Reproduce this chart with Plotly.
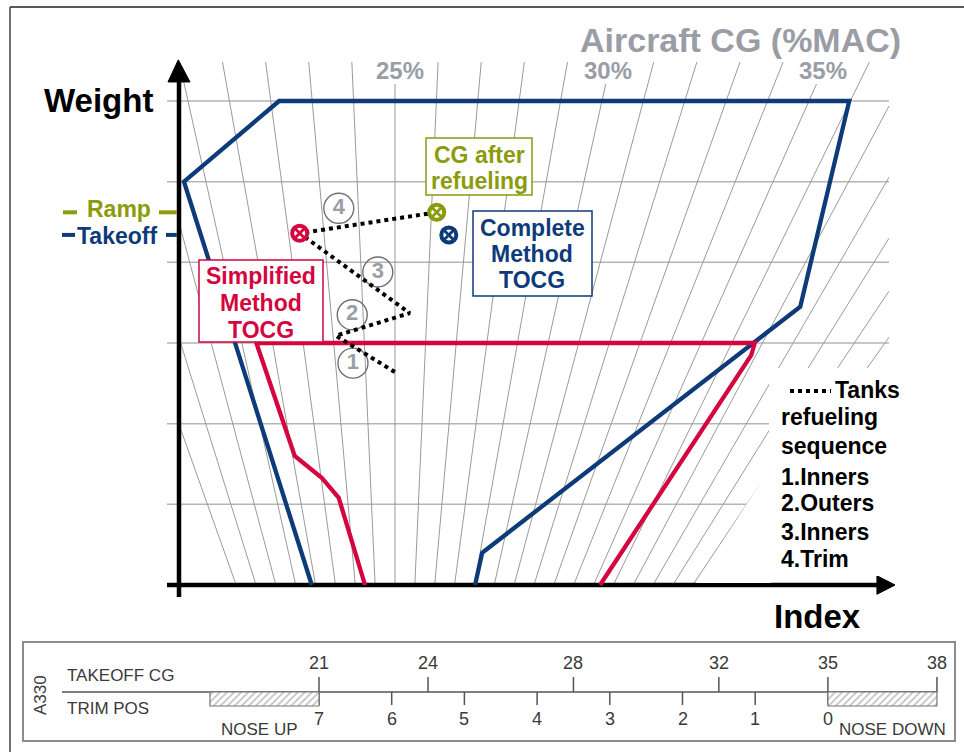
import plotly.graph_objects as go

W, H = 964, 752

# ---------------- data ----------------
weight_grid = [1, 2, 3, 4, 5, 6]
cg_lines = list(range(17, 43))          # %MAC lines of the fan
cg_labeled = [25, 30, 35]

takeoff_env_index = [18.7, 0.7, 14.1, 94.4, 87.5, 42.7, 41.7]
takeoff_env_weight = [0.0, 5.0, 6.0, 6.0, 3.45, 0.40, 0.0]

simplified_env_index = [26.2, 22.5, 20.1, 16.3, 10.9, 81.1, 80.6, 59.3]
simplified_env_weight = [0.0, 1.08, 1.33, 1.60, 3.0, 3.0, 2.85, 0.0]

refuel_index = [30.4, 22.1, 32.5, 17.0, 36.3]
refuel_weight = [2.64, 3.09, 3.37, 4.36, 4.62]

step_labels = ["1", "2", "3", "4"]
step_index = [24.5, 24.4, 28.0, 22.5]
step_weight = [2.75, 3.35, 3.88, 4.67]

point_names = ["Simplified TOCG", "CG after refueling", "Complete TOCG"]
point_index = [17.0, 36.3, 38.0]
point_weight = [4.36, 4.62, 4.34]

ramp_weight = 4.62
takeoff_weight = 4.34

sequence_lines = ["refueling", "sequence", "1.Inners", "2.Outers", "3.Inners", "4.Trim"]

takeoff_cg_ticks = [21, 24, 28, 32, 35, 38]
trim_pos_ticks = [7, 6, 5, 4, 3, 2, 1, 0]
nose_up_cg = [18, 21]
nose_down_cg = [35, 38]

# ---------------- colours / fonts ----------------
BLUE = "#0d3b7a"
RED = "#d4063f"
OLIVE = "#8b9b0b"
GRAYTXT = "#9b9da6"
SANS = "Liberation Sans, Arial, Helvetica, sans-serif"

# ---------------- scales ----------------
OX, OY = 179, 585          # pixel position of index 0 / weight 0
PXU, PXW = 7.1, 80.667     # pixels per index unit / per weight unit
xr = [-OX / PXU, (W - OX) / PXU]
yr = [(OY - H) / PXW, OY / PXW]

# fan of %MAC lines: index = U25 + (cg-25)*(A + B*weight)
U25, A, B = 30.42, 2.796, 0.5057
U_MAX = 100.0
W_TOP, W_TOP_LAB = 6.483, 6.21
GRID_U0 = -1.69

# bottom strip scale (takeoff CG -> pixel column)
S_PX21, S_PXCG = 319, 36.35
x2r = [21 - S_PX21 / S_PXCG, 21 + (W - S_PX21) / S_PXCG]


def P(px, py):
    return px / W, 1 - py / H


fig = go.Figure()

# horizontal weight grid
hx, hy = [], []
for w in weight_grid:
    hx += [GRID_U0, U_MAX, None]
    hy += [w, w, None]
fig.add_trace(go.Scatter(x=hx, y=hy, mode="lines", line=dict(color="#b5b5b5", width=1.5), hoverinfo="skip"))

# %MAC fan
gx, gy = [], []
for cg in cg_lines:
    wtop = W_TOP_LAB if cg in cg_labeled else W_TOP
    c0 = U25 + (cg - 25) * A
    c1 = (cg - 25) * B
    lo, hi = 0.0, wtop
    if c1 > 0:
        hi = min(hi, (U_MAX - c0) / c1)
    elif c1 < 0:
        hi = min(hi, -c0 / c1)
    if hi <= lo:
        continue
    gx += [c0 + c1 * lo, c0 + c1 * hi, None]
    gy += [lo, hi, None]
fig.add_trace(go.Scatter(x=gx, y=gy, mode="lines", line=dict(color="#9a9a9a", width=1), hoverinfo="skip"))

# axes with arrows
fig.add_trace(go.Scatter(x=[0, 0], y=[-0.149, 6.25], mode="lines", line=dict(color="black", width=4.5), hoverinfo="skip"))
fig.add_trace(go.Scatter(x=[-1.55, 1.55, -0.1, -1.55], y=[6.236, 6.236, 6.51, 6.236], mode="lines", fill="toself",
                         fillcolor="black", line=dict(color="black", width=1), hoverinfo="skip"))
fig.add_trace(go.Scatter(x=[GRID_U0, 98.5], y=[0, 0], mode="lines", line=dict(color="black", width=4.5), hoverinfo="skip"))
fig.add_trace(go.Scatter(x=[98.3, 98.3, 100.85, 98.3], y=[0.115, -0.115, 0, 0.115], mode="lines", fill="toself",
                         fillcolor="black", line=dict(color="black", width=1), hoverinfo="skip"))

# envelopes
fig.add_trace(go.Scatter(x=takeoff_env_index, y=takeoff_env_weight, mode="lines",
                         line=dict(color=BLUE, width=4.3), hoverinfo="skip"))
fig.add_trace(go.Scatter(x=simplified_env_index, y=simplified_env_weight, mode="lines",
                         line=dict(color=RED, width=4.3), hoverinfo="skip"))

# ramp / takeoff marks on the weight axis
fig.add_trace(go.Scatter(x=[-16.34, -14.37, None, -2.82, -0.3], y=[ramp_weight] * 2 + [None] + [ramp_weight] * 2,
                         mode="lines", line=dict(color=OLIVE, width=4), hoverinfo="skip"))
fig.add_trace(go.Scatter(x=[-16.48, -14.65, None, -1.83, -0.3], y=[takeoff_weight] * 2 + [None] + [takeoff_weight] * 2,
                         mode="lines", line=dict(color=BLUE, width=4), hoverinfo="skip"))

# circled step numbers
fig.add_trace(go.Scatter(x=step_index, y=step_weight, mode="markers+text", text=step_labels,
                         textposition="middle center",
                         textfont=dict(family=SANS, size=22, color=GRAYTXT, weight="bold"),
                         marker=dict(symbol="circle-open", size=30, color="#6f6f6f", line=dict(width=1.4)),
                         hoverinfo="skip"))

# refuelling path
fig.add_trace(go.Scatter(x=refuel_index, y=refuel_weight, mode="lines",
                         line=dict(color="black", width=4, dash="dot"), hoverinfo="skip"))

# CG points (circle with cross)
pcolors = [RED, OLIVE, BLUE]
fig.add_trace(go.Scatter(x=point_index, y=point_weight, mode="markers",
                         marker=dict(symbol="circle", size=19, color=pcolors, line=dict(width=0)), hoverinfo="skip"))
fig.add_trace(go.Scatter(x=point_index, y=point_weight, mode="markers",
                         marker=dict(symbol="circle", size=11, color="white", line=dict(width=0)), hoverinfo="skip"))
fig.add_trace(go.Scatter(x=point_index, y=point_weight, mode="markers",
                         marker=dict(symbol="x-thin", size=11, color=pcolors, line=dict(width=2.8, color=pcolors)),
                         hoverinfo="skip"))

# ---------------- bottom trim strip ----------------
STRIP_LINE, CG_TICK_TOP, TRIM_TICK_BOT, HATCH_BOT = 692, 677, 705, 706
strip_left_cg = 21 - (S_PX21 - 62) / S_PXCG
fig.add_trace(go.Scatter(x=[strip_left_cg, max(takeoff_cg_ticks)], y=[STRIP_LINE, STRIP_LINE], mode="lines",
                         line=dict(color="#555", width=1.5), xaxis="x2", yaxis="y2", hoverinfo="skip"))
tx, ty = [], []
for c in takeoff_cg_ticks:
    tx += [c, c, None]
    ty += [CG_TICK_TOP, STRIP_LINE, None]
for t in trim_pos_ticks:
    c = 35 - 2 * t
    tx += [c, c, None]
    ty += [STRIP_LINE, TRIM_TICK_BOT, None]
fig.add_trace(go.Scatter(x=tx, y=ty, mode="lines", line=dict(color="#555", width=1.5),
                         xaxis="x2", yaxis="y2", hoverinfo="skip"))
for rng in (nose_up_cg, nose_down_cg):
    fig.add_trace(go.Scatter(x=[rng[0], rng[1], rng[1], rng[0], rng[0]],
                             y=[STRIP_LINE, STRIP_LINE, HATCH_BOT, HATCH_BOT, STRIP_LINE],
                             mode="lines", fill="toself", fillcolor="white",
                             fillpattern=dict(shape="/", fgcolor="#7a7a7a", bgcolor="white", size=5, solidity=0.3),
                             line=dict(color="#777", width=1.2), xaxis="x2", yaxis="y2", hoverinfo="skip"))

shapes = []
# white masks behind the sequence legend
shapes.append(dict(type="rect", xref="paper", yref="paper", x0=769 / W, x1=1, y0=1 - 576 / H, y1=1 - 368 / H,
                   fillcolor="white", line=dict(width=0), layer="above"))
x1p, y1p = P(771, 466)
x2p, y2p = P(771, 583)
x3p, y3p = P(696, 583)
shapes.append(dict(type="path", xref="paper", yref="paper",
                   path=f"M {x1p} {y1p} L {x2p} {y2p} L {x3p} {y3p} Z",
                   fillcolor="white", line=dict(width=0), layer="above"))
# dotted legend sample
shapes.append(dict(type="line", xref="paper", yref="paper", x0=790 / W, x1=831 / W, y0=1 - 391 / H, y1=1 - 391 / H,
                   line=dict(color="black", width=4, dash="dot"), layer="above"))


def box(x0, y0, x1, y1, color):
    shapes.append(dict(type="rect", xref="paper", yref="paper", x0=x0 / W, x1=x1 / W, y0=1 - y1 / H, y1=1 - y0 / H,
                       fillcolor="white", line=dict(color=color, width=1.5), layer="above"))


box(426, 138, 532, 195, OLIVE)
box(473, 211, 592, 296, BLUE)
box(199, 260, 323, 342, RED)

# outer frame
shapes.append(dict(type="line", xref="paper", yref="paper", x0=10 / W, x1=1, y0=1 - 7 / H, y1=1 - 7 / H,
                   line=dict(color="#222", width=1.5)))
shapes.append(dict(type="line", xref="paper", yref="paper", x0=10 / W, x1=10 / W, y0=0, y1=1 - 7 / H,
                   line=dict(color="#444", width=1.5)))
# strip frame
shapes.append(dict(type="rect", xref="paper", yref="paper", x0=23 / W, x1=955 / W, y0=1 - 741 / H, y1=1 - 642 / H,
                   line=dict(color="#8c8c8c", width=2)))

ann = []


def txt(s, px, py, size, color, xanchor="center", bold=True, family=SANS, angle=0):
    ann.append(dict(text=s, x=px / W, y=1 - py / H, xref="paper", yref="paper", showarrow=False,
                    xanchor=xanchor, yanchor="middle", textangle=angle,
                    font=dict(family=family, size=size, color=color, weight="bold" if bold else "normal")))


txt("Weight", 98, 100, 33, "black")
txt("Index", 817, 616, 33, "black")
txt("Aircraft CG (%MAC)", 740, 40, 34, GRAYTXT)
for lab, px in zip(cg_labeled, [400, 608, 823]):
    txt(f"{lab}%", px, 70, 24, GRAYTXT)

txt("Ramp", 119, 209, 23, OLIVE)
txt("Takeoff", 117, 236, 23, BLUE)

for s, py in zip(["CG after", "refueling"], [155, 181]):
    txt(s, 479, py, 23, OLIVE)
for s, py in zip(["Complete", "Method", "TOCG"], [228, 254, 280]):
    txt(s, 532, py, 23, BLUE)
for s, py in zip(["Simplified", "Method", "TOCG"], [276, 303, 330]):
    txt(s, 261, py, 23, RED)

txt("Tanks", 833, 390, 23, "black", xanchor="left")
for s, py in zip(sequence_lines, [417, 446, 477, 503, 532, 559]):
    txt(s, 779, py, 23, "black", xanchor="left")

# strip texts
STRIP_FONT = "Liberation Sans, Arial, sans-serif"
SC = "#3a3a3a"
txt("TAKEOFF CG", 65, 675, 17, SC, xanchor="left", bold=False, family=STRIP_FONT)
txt("TRIM POS", 65, 708, 17, SC, xanchor="left", bold=False, family=STRIP_FONT)
txt("A330", 40, 695, 17, SC, bold=False, family=STRIP_FONT, angle=-90)
txt("NOSE UP", 259, 729, 17, SC, bold=False, family=STRIP_FONT)
txt("NOSE DOWN", 892, 729, 17, SC, bold=False, family=STRIP_FONT)
for c in takeoff_cg_ticks:
    ann.append(dict(text=str(c), x=c, y=663, xref="x2", yref="y2", showarrow=False, yanchor="middle",
                    font=dict(family=STRIP_FONT, size=18, color=SC)))
for t in trim_pos_ticks:
    ann.append(dict(text=str(t), x=35 - 2 * t, y=719, xref="x2", yref="y2", showarrow=False, yanchor="middle",
                    font=dict(family=STRIP_FONT, size=18, color=SC)))

fig.update_layout(
    width=W, height=H, margin=dict(l=0, r=0, t=0, b=0),
    paper_bgcolor="white", plot_bgcolor="rgba(0,0,0,0)", showlegend=False,
    xaxis=dict(range=xr, visible=False, domain=[0, 1], fixedrange=True),
    yaxis=dict(range=yr, visible=False, domain=[0, 1], fixedrange=True),
    xaxis2=dict(range=x2r, visible=False, overlaying="x", anchor="y2", fixedrange=True),
    yaxis2=dict(range=[H, 0], visible=False, overlaying="y", anchor="x2", fixedrange=True),
    shapes=shapes, annotations=ann,
)

fig.write_html("out.html", config={"displayModeBar": False},
               post_script="document.body.style.margin='0';document.body.style.overflow='hidden';")
